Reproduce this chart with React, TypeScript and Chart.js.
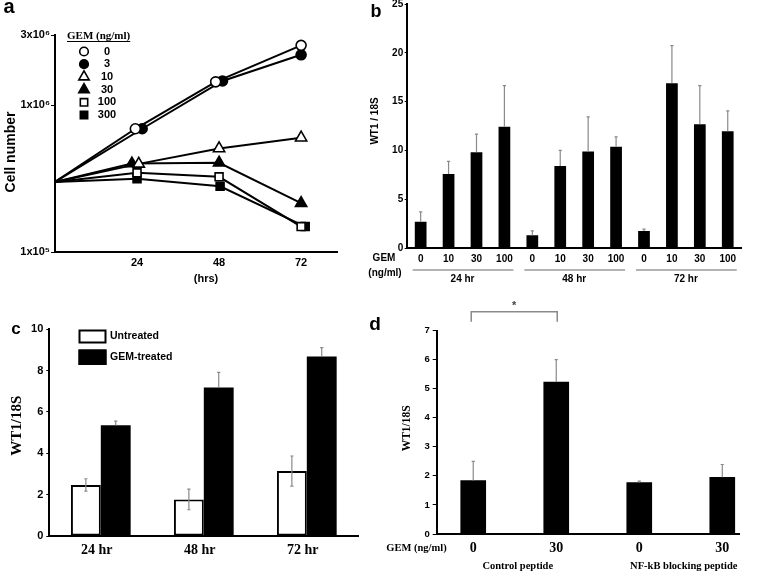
import React, { useEffect, useRef } from 'react';
import { Chart, registerables } from 'chart.js';

Chart.register(...registerables);

const W = 761;
const H = 573;
const SANS = '"Liberation Sans", Arial, sans-serif';
const SERIF = '"Liberation Serif", "Times New Roman", serif';
const ERR_COLOR = '#8a8a8a';

/* ---------- panel a : cell number (log) vs hours ---------- */
const doseLabelsA = ['0', '3', '10', '30', '100', '300'];
const hoursA0 = [0, 23.5, 47, 72];
const hoursA3 = [0, 25.5, 49, 72];
const hoursA10 = [0, 24.5, 48, 72];
const hoursA30 = [0, 22.5, 48, 72];
const hoursA100 = [0, 24, 48, 72];
const hoursA300 = [0, 24, 48.3, 73.2];
const cellsA0 = [3.0e5, 6.9e5, 1.44e6, 2.55e6];
const cellsA3 = [3.0e5, 6.9e5, 1.46e6, 2.2e6];
const cellsA10 = [3.0e5, 3.98e5, 5.07e5, 6.0e5];
const cellsA30 = [3.0e5, 4.0e5, 4.05e5, 2.15e5];
const cellsA100 = [3.0e5, 3.46e5, 3.25e5, 1.49e5];
const cellsA300 = [3.0e5, 3.15e5, 2.8e5, 1.49e5];
const hourTicksA = [24, 48, 72];
const cellTickValuesA = [1e5, 1e6, 3e6];
const cellTickLabelsA = ['1x10\u2075', '1x10\u2076', '3x10\u2076'];

/* ---------- panel b : WT1/18S by dose and time ---------- */
const doseLabelsB = ['0', '10', '30', '100', '0', '10', '30', '100', '0', '10', '30', '100'];
const ratioB = [2.72, 7.6, 9.83, 12.45, 1.33, 8.42, 9.9, 10.4, 1.77, 16.9, 12.7, 11.97];
const errorB = [1.0, 1.3, 1.85, 4.2, 0.45, 1.6, 3.55, 1.0, 0.2, 3.85, 3.95, 2.1];
const timeGroupsB = ['24 hr', '48 hr', '72 hr'];

/* ---------- panel c : untreated vs GEM-treated ---------- */
const timeLabelsC = ['24 hr', '48 hr', '72 hr'];
const untreatedC = [2.47, 1.77, 3.14];
const untreatedErrC = [0.3, 0.5, 0.73];
const gemC = [5.36, 7.18, 8.68];
const gemErrC = [0.2, 0.74, 0.43];

/* ---------- panel d : control vs NF-kB blocking peptide ---------- */
const positionsD = [1, 2, 3, 4];
const doseLabelsD = ['0', '30', '0', '30'];
const ratioD = [1.84, 5.23, 1.77, 1.95];
const errorD = [0.66, 0.77, 0.05, 0.44];
const peptideGroupsD = ['Control peptide', 'NF-kB blocking peptide'];
const significanceD = [{ from: 0, to: 1, label: '*' }];

/* ---------- styles ---------- */
const markerStylesA = ['circle', 'circle', 'triangle', 'triangle', 'rect', 'rect'];
const markerFillsA = ['#fff', '#000', '#fff', '#000', '#fff', '#000'];
const markerSizesA = [5, 5, 6.5, 6.5, 5.6, 5.6];
const legendSizesA = [4.3, 4.3, 6, 6, 5.2, 5.2];

const XH = 30;
type Area = { l: number; r: number; t: number; b: number };
function pad(a: Area, yw: number) {
  return { left: a.l - yw, right: W - a.r, top: a.t, bottom: H - a.b - XH };
}
function fitY(yw: number) {
  return (s: any) => {
    s.width = yw;
    s.paddingTop = 0;
    s.paddingBottom = 0;
    s.paddingLeft = 0;
    s.paddingRight = 0;
  };
}
function fitX(s: any) {
  s.height = XH;
  s.paddingLeft = 0;
  s.paddingRight = 0;
  s.paddingTop = 0;
  s.paddingBottom = 0;
}

function txt(
  ctx: CanvasRenderingContext2D,
  s: string,
  x: number,
  y: number,
  font: string,
  opts: { align?: CanvasTextAlign; baseline?: CanvasTextBaseline; rotate?: number; color?: string } = {}
) {
  ctx.save();
  ctx.font = font;
  ctx.fillStyle = opts.color || '#000';
  ctx.textAlign = opts.align || 'center';
  ctx.textBaseline = opts.baseline || 'middle';
  if (opts.rotate) {
    ctx.translate(x, y);
    ctx.rotate(opts.rotate);
    ctx.fillText(s, 0, 0);
  } else {
    ctx.fillText(s, x, y);
  }
  const w = ctx.measureText(s).width;
  ctx.restore();
  return w;
}

function drawMarker(ctx: CanvasRenderingContext2D, style: string, x: number, y: number, r: number, fill: string) {
  ctx.save();
  ctx.beginPath();
  if (style === 'circle') {
    ctx.arc(x, y, r, 0, Math.PI * 2);
  } else if (style === 'triangle') {
    ctx.moveTo(x, y - r);
    ctx.lineTo(x + r * 0.866, y + r * 0.5);
    ctx.lineTo(x - r * 0.866, y + r * 0.5);
    ctx.closePath();
  } else {
    const h = r * Math.SQRT1_2;
    ctx.rect(x - h, y - h, 2 * h, 2 * h);
  }
  ctx.fillStyle = fill;
  ctx.fill();
  ctx.strokeStyle = '#000';
  ctx.lineWidth = 1.6;
  ctx.stroke();
  ctx.restore();
}

const errorBarPlugin = {
  id: 'errorBars',
  afterDatasetsDraw(chart: any) {
    const ctx: CanvasRenderingContext2D = chart.ctx;
    const y = chart.scales.y;
    chart.data.datasets.forEach((ds: any, i: number) => {
      if (!ds.errors) return;
      const meta = chart.getDatasetMeta(i);
      meta.data.forEach((el: any, j: number) => {
        const raw = ds.data[j];
        const v = typeof raw === 'number' ? raw : raw.y;
        const e = ds.errors[j];
        const top = y.getPixelForValue(v + e);
        const bot = ds.errorMode === 'both' ? y.getPixelForValue(v - e) : el.y;
        const cap = 1.6;
        ctx.save();
        ctx.strokeStyle = ERR_COLOR;
        ctx.lineWidth = 1.2;
        ctx.beginPath();
        ctx.moveTo(el.x, bot);
        ctx.lineTo(el.x, top);
        ctx.moveTo(el.x - cap, top);
        ctx.lineTo(el.x + cap, top);
        if (ds.errorMode === 'both') {
          ctx.moveTo(el.x - cap, bot);
          ctx.lineTo(el.x + cap, bot);
        }
        ctx.stroke();
        ctx.restore();
      });
    });
  },
};

const baseOpts = {
  responsive: false,
  animation: false as const,
  events: [] as any[],
  plugins: { legend: { display: false }, tooltip: { enabled: false } },
};

const axisBorder = { display: true, color: '#000', width: 2 };
const yGrid = (len: number) => ({
  display: true,
  drawOnChartArea: false,
  drawTicks: true,
  tickLength: len,
  color: '#000',
  lineWidth: 1,
});

/* ---------- panel a config ---------- */
function configA(): any {
  const area = { l: 55, r: 337, t: 35, b: 252 };
  const yw = 50;
  const hours = [hoursA0, hoursA3, hoursA10, hoursA30, hoursA100, hoursA300];
  const cells = [cellsA0, cellsA3, cellsA10, cellsA30, cellsA100, cellsA300];
  return {
    type: 'line',
    data: {
      datasets: doseLabelsA.map((lab, i) => ({
        label: lab,
        data: hours[i].map((h, k) => ({ x: h, y: cells[i][k] })),
        borderColor: '#000',
        borderWidth: 2,
        pointStyle: markerStylesA[i],
        pointRadius: hours[i].map((_, k) => (k === 0 ? 0 : markerSizesA[i])),
        pointBackgroundColor: markerFillsA[i],
        pointBorderColor: '#000',
        pointBorderWidth: 1.6,
        clip: false,
        tension: 0,
      })),
    },
    options: {
      ...baseOpts,
      layout: { padding: pad(area, yw) },
      scales: {
        x: {
          type: 'linear',
          min: 0,
          max: 82.5,
          afterBuildTicks: (s: any) => {
            s.ticks = hourTicksA.map((v) => ({ value: v }));
          },
          afterFit: fitX,
          grid: { display: false, drawTicks: false },
          border: axisBorder,
          ticks: { color: '#000', font: { family: SANS, size: 11, weight: 'bold' }, padding: 4.4, maxRotation: 0 },
        },
        y: {
          type: 'logarithmic',
          min: 1e5,
          max: 3e6,
          afterBuildTicks: (s: any) => {
            s.ticks = cellTickValuesA.map((v) => ({ value: v }));
          },
          afterFit: fitY(yw),
          grid: yGrid(4),
          border: axisBorder,
          ticks: {
            color: '#000',
            font: { family: SANS, size: 11, weight: 'bold' },
            padding: 1,
            callback: (v: number) => cellTickLabelsA[cellTickValuesA.indexOf(v)] ?? '',
          },
        },
      },
    },
    plugins: [
      {
        id: 'panelA',
        afterDraw(chart: any) {
          const ctx: CanvasRenderingContext2D = chart.ctx;
          txt(ctx, 'a', 9, 13, `bold 20px ${SANS}`, { baseline: 'alphabetic' });
          txt(ctx, 'Cell number', 11, 152, `bold 14px ${SANS}`, { rotate: -Math.PI / 2 });
          txt(ctx, '(hrs)', 206, 279, `bold 11px ${SANS}`);
          const w = txt(ctx, 'GEM (ng/ml)', 67, 36, `bold 11px ${SERIF}`, { align: 'left' });
          ctx.save();
          ctx.strokeStyle = '#000';
          ctx.lineWidth = 1;
          ctx.beginPath();
          ctx.moveTo(67, 41.5);
          ctx.lineTo(67 + w, 41.5);
          ctx.stroke();
          ctx.restore();
          chart.data.datasets.forEach((ds: any, i: number) => {
            const y = 51.5 + i * 12.7;
            drawMarker(ctx, markerStylesA[i], 84, y, legendSizesA[i], markerFillsA[i]);
            txt(ctx, ds.label, 107, y, `bold 11px ${SANS}`);
          });
        },
      },
    ],
  };
}

/* ---------- panel b config ---------- */
function configB(): any {
  const area = { l: 406.7, r: 741.7, t: 4, b: 248.3 };
  const yw = 30;
  return {
    type: 'bar',
    data: {
      labels: doseLabelsB,
      datasets: [
        {
          label: 'WT1 / 18S',
          data: ratioB,
          errors: errorB,
          errorMode: 'up',
          backgroundColor: '#000',
          borderWidth: 0,
          barPercentage: 0.42,
          categoryPercentage: 1,
        },
      ],
    },
    options: {
      ...baseOpts,
      layout: { padding: pad(area, yw) },
      scales: {
        x: {
          type: 'category',
          afterFit: fitX,
          grid: { display: false, drawTicks: false },
          border: axisBorder,
          ticks: { color: '#000', font: { family: SANS, size: 10, weight: 'bold' }, padding: 5, maxRotation: 0, autoSkip: false },
        },
        y: {
          min: 0,
          max: 25,
          afterFit: fitY(yw),
          grid: yGrid(2),
          border: axisBorder,
          ticks: { stepSize: 5, color: '#000', font: { family: SANS, size: 10, weight: 'bold' }, padding: 1.5 },
        },
      },
    },
    plugins: [
      errorBarPlugin,
      {
        id: 'panelB',
        afterDraw(chart: any) {
          const ctx: CanvasRenderingContext2D = chart.ctx;
          const x = chart.scales.x;
          txt(ctx, 'b', 376, 17, `bold 18px ${SANS}`, { baseline: 'alphabetic' });
          txt(ctx, 'WT1 / 18S', 375, 121, `bold 10px ${SANS}`, { rotate: -Math.PI / 2 });
          txt(ctx, 'GEM', 384, 258.5, `bold 10px ${SANS}`);
          txt(ctx, '(ng/ml)', 385, 273, `bold 10px ${SANS}`);
          timeGroupsB.forEach((g, gi) => {
            const x0 = x.getPixelForTick(gi * 4) - 8;
            const x1 = x.getPixelForTick(gi * 4 + 3) + 9;
            ctx.save();
            ctx.strokeStyle = '#9a9a9a';
            ctx.lineWidth = 1.5;
            ctx.beginPath();
            ctx.moveTo(x0, 270);
            ctx.lineTo(x1, 270);
            ctx.stroke();
            ctx.restore();
            const cx = (x.getPixelForTick(gi * 4) + x.getPixelForTick(gi * 4 + 3)) / 2;
            txt(ctx, g, cx, 279.5, `bold 10px ${SANS}`);
          });
        },
      },
    ],
  };
}

/* ---------- panel c config ---------- */
function configC(): any {
  const area = { l: 49.3, r: 358.3, t: 329.3, b: 536 };
  const yw = 40;
  return {
    type: 'bar',
    data: {
      labels: timeLabelsC,
      datasets: [
        {
          label: 'Untreated',
          data: untreatedC,
          errors: untreatedErrC,
          errorMode: 'both',
          backgroundColor: '#fff',
          borderColor: '#000',
          borderWidth: 2,
          borderSkipped: false,
          barPercentage: 1,
          categoryPercentage: 0.58,
        },
        {
          label: 'GEM-treated',
          data: gemC,
          errors: gemErrC,
          errorMode: 'up',
          backgroundColor: '#000',
          borderColor: '#000',
          borderWidth: 0,
          barPercentage: 1,
          categoryPercentage: 0.58,
        },
      ],
    },
    options: {
      ...baseOpts,
      layout: { padding: pad(area, yw) },
      scales: {
        x: {
          type: 'category',
          afterFit: fitX,
          grid: { display: false, drawTicks: false },
          border: axisBorder,
          ticks: { color: '#000', font: { family: SERIF, size: 14, weight: 'bold' }, padding: 5.6, labelOffset: -4, maxRotation: 0 },
        },
        y: {
          min: 0,
          max: 10,
          afterFit: fitY(yw),
          grid: yGrid(3),
          border: axisBorder,
          ticks: { stepSize: 2, color: '#000', font: { family: SANS, size: 11, weight: 'bold' }, padding: 3 },
        },
      },
    },
    plugins: [
      errorBarPlugin,
      {
        id: 'panelC',
        afterDraw(chart: any) {
          const ctx: CanvasRenderingContext2D = chart.ctx;
          txt(ctx, 'c', 16, 333.5, `bold 17px ${SANS}`, { baseline: 'alphabetic' });
          txt(ctx, 'WT1/18S', 17.5, 425.7, `bold 15px ${SERIF}`, { rotate: -Math.PI / 2 });
          const boxes = [
            { y: 329.5, h: 14 },
            { y: 349.5, h: 15.5 },
          ];
          chart.data.datasets.forEach((ds: any, i: number) => {
            const b = boxes[i];
            ctx.save();
            ctx.fillStyle = ds.backgroundColor;
            ctx.fillRect(78.5, b.y, 28, b.h);
            ctx.strokeStyle = '#000';
            ctx.lineWidth = 2;
            ctx.strokeRect(78.5 + 1, b.y + 1, 26, b.h - 2);
            ctx.restore();
            txt(ctx, ds.label, 110, b.y + b.h / 2, `bold 10.5px ${SANS}`, { align: 'left' });
          });
        },
      },
    ],
  };
}

/* ---------- panel d config ---------- */
function configD(): any {
  const area = { l: 436.7, r: 739.3, t: 330.5, b: 534 };
  const yw = 40;
  return {
    type: 'bar',
    data: {
      datasets: [
        {
          label: 'WT1/18S',
          data: positionsD.map((p, i) => ({ x: p, y: ratioD[i] })),
          errors: errorD,
          errorMode: 'up',
          backgroundColor: '#000',
          borderWidth: 0,
          barThickness: 25,
        },
      ],
    },
    options: {
      ...baseOpts,
      layout: { padding: pad(area, yw) },
      scales: {
        x: {
          type: 'linear',
          min: 0.56,
          max: 4.205,
          offset: false,
          afterBuildTicks: (s: any) => {
            s.ticks = positionsD.map((v) => ({ value: v }));
          },
          afterFit: fitX,
          grid: { display: false, drawTicks: false },
          border: axisBorder,
          ticks: {
            color: '#000',
            font: { family: SERIF, size: 14, weight: 'bold' },
            padding: 6,
            maxRotation: 0,
            callback: (v: number) => doseLabelsD[positionsD.indexOf(v)] ?? '',
          },
        },
        y: {
          min: 0,
          max: 7,
          afterFit: fitY(yw),
          grid: yGrid(4),
          border: axisBorder,
          ticks: { stepSize: 1, color: '#000', font: { family: SANS, size: 9.5, weight: 'bold' }, padding: 3 },
        },
      },
    },
    plugins: [
      errorBarPlugin,
      {
        id: 'panelD',
        afterDraw(chart: any) {
          const ctx: CanvasRenderingContext2D = chart.ctx;
          const x = chart.scales.x;
          txt(ctx, 'd', 375, 330, `bold 19px ${SANS}`, { baseline: 'alphabetic' });
          txt(ctx, 'WT1/18S', 406.7, 428.3, `bold 11.5px ${SERIF}`, { rotate: -Math.PI / 2 });
          txt(ctx, 'GEM (ng/ml)', 416.5, 548.3, `bold 10.5px ${SERIF}`);
          peptideGroupsD.forEach((g, gi) => {
            const cx = (x.getPixelForValue(positionsD[gi * 2]) + x.getPixelForValue(positionsD[gi * 2 + 1])) / 2;
            txt(ctx, g, cx + 3, 566.5, `bold 10.5px ${SERIF}`);
          });
          significanceD.forEach((s) => {
            const x0 = x.getPixelForValue(positionsD[s.from]) - 2;
            const x1 = x.getPixelForValue(positionsD[s.to]) + 1;
            ctx.save();
            ctx.strokeStyle = '#8a8a8a';
            ctx.lineWidth = 1.5;
            ctx.beginPath();
            ctx.moveTo(x0, 321.7);
            ctx.lineTo(x0, 311.7);
            ctx.lineTo(x1, 311.7);
            ctx.lineTo(x1, 321.7);
            ctx.stroke();
            ctx.restore();
            txt(ctx, s.label, (x0 + x1) / 2, 306, `bold 11px ${SANS}`, { color: '#444' });
          });
        },
      },
    ],
  };
}

export default function App() {
  const refA = useRef<HTMLCanvasElement>(null);
  const refB = useRef<HTMLCanvasElement>(null);
  const refC = useRef<HTMLCanvasElement>(null);
  const refD = useRef<HTMLCanvasElement>(null);

  useEffect(() => {
    const charts = [
      new Chart(refA.current as HTMLCanvasElement, configA()),
      new Chart(refB.current as HTMLCanvasElement, configB()),
      new Chart(refC.current as HTMLCanvasElement, configC()),
      new Chart(refD.current as HTMLCanvasElement, configD()),
    ];
    return () => charts.forEach((c) => c.destroy());
  }, []);

  const cs: React.CSSProperties = { position: 'absolute', left: 0, top: 0, width: W, height: H };
  return (
    <div style={{ position: 'fixed', left: 0, top: 0, width: W, height: H, background: '#fff', overflow: 'hidden' }}>
      <canvas ref={refA} width={W} height={H} style={cs} />
      <canvas ref={refB} width={W} height={H} style={cs} />
      <canvas ref={refC} width={W} height={H} style={cs} />
      <canvas ref={refD} width={W} height={H} style={cs} />
    </div>
  );
}
